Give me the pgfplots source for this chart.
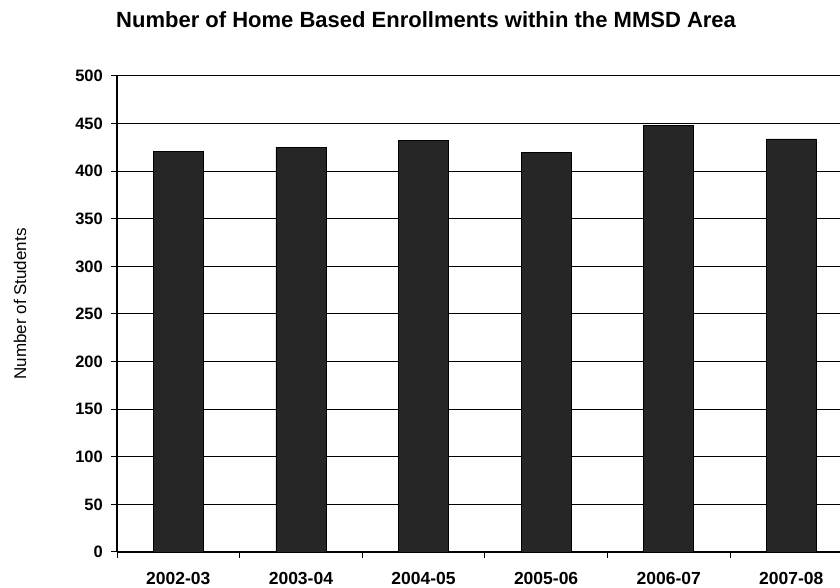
\documentclass[border=0pt]{standalone}
\usepackage{pgfplots}
\pgfplotsset{compat=1.18}
\usepackage{fontspec}
\setmainfont{Liberation Sans}
\definecolor{barfill}{RGB}{38,38,38}
\begin{document}
\begin{tikzpicture}[x=1pt,y=1pt]
\useasboundingbox (0,0) rectangle (840,588);
\begin{axis}[
  at={(117pt,36pt)}, anchor=south west,
  scale only axis, width=723pt, height=476pt,
  xmin=-0.5, xmax=5.397, ymin=0, ymax=500,
  axis x line*=bottom, axis y line*=left,
  axis line style={black, line width=1.4pt},
  ytick={0,50,...,500},
  ymajorgrids, major grid style={black, line width=1pt},
  xtick={0,1,2,3,4,5},
  xticklabels={2002-03,2003-04,2004-05,2005-06,2006-07,2007-08},
  minor xtick={-0.5,0.5,1.5,2.5,3.5,4.5},
  tick align=outside,
  major tick length=6pt, minor tick length=6pt,
  major x tick style={draw=none},
  tick style={black, line width=1pt},
  minor x tick style={black, line width=1pt},
  /pgf/number format/assume math mode=true,
  yticklabel style={font=\fontsize{16.5}{18}\selectfont\bfseries, inner sep=0pt, xshift=-8pt},
  xticklabel style={font=\fontsize{17.5}{19}\selectfont\bfseries, inner sep=0pt, yshift=-14pt},
  ybar, bar width=50pt,
]
\addplot[fill=barfill, draw=black, line width=0.5pt] coordinates {
  (0,421) (1,425) (2,432) (3,420) (4,448) (5,434)
};
\end{axis}
\node[font=\fontsize{22}{25}\selectfont\bfseries, anchor=base west, inner sep=0pt] at (116,560.3) {Number of Home Based Enrollments within the MMSD Area};
\node[rotate=90, font=\fontsize{17}{19}\selectfont] at (20,284) {Number of Students};
\end{tikzpicture}
\end{document}
